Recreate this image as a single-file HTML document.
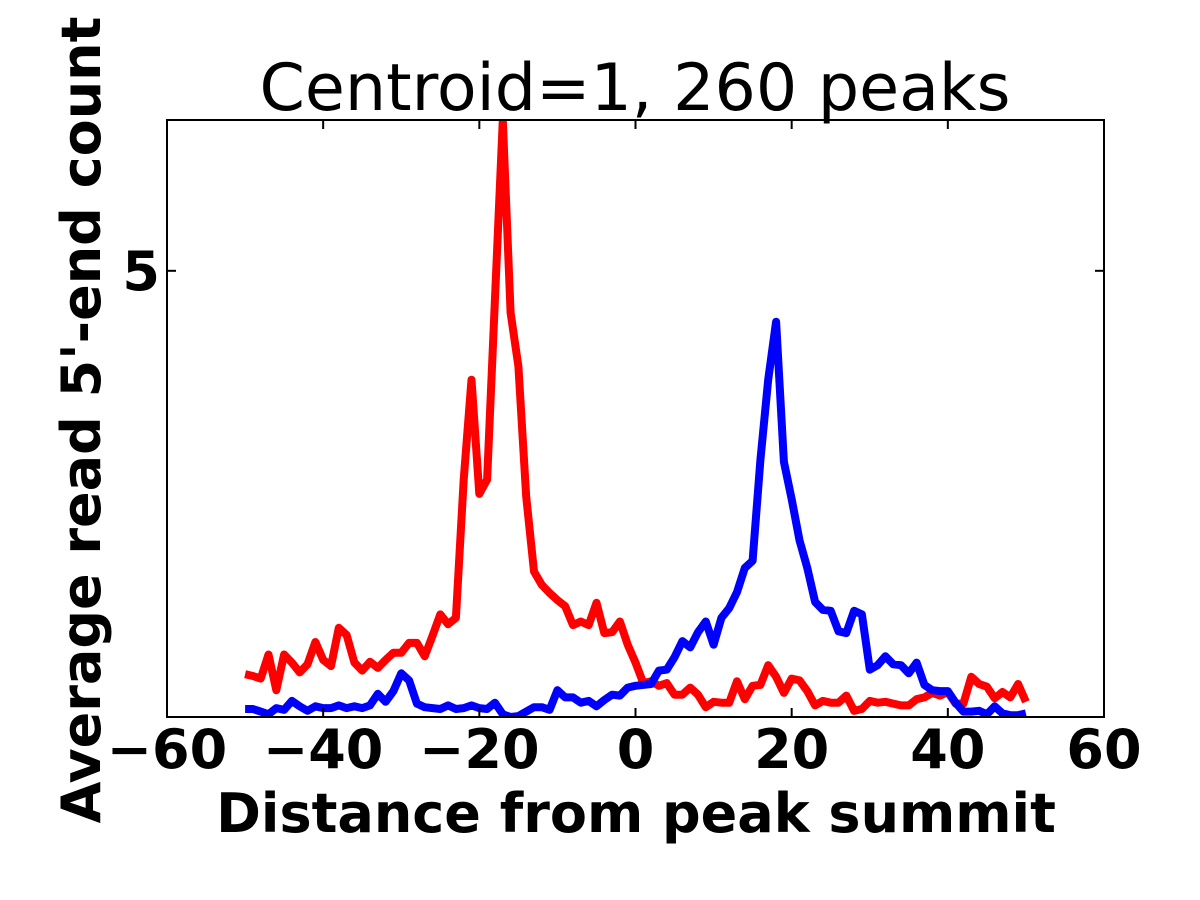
<!DOCTYPE html>
<html><head><meta charset="utf-8"><style>html,body{margin:0;padding:0;background:#fff}svg{display:block}</style></head>
<body>
<svg id="chart" width="1200" height="900" xmlns="http://www.w3.org/2000/svg" font-family="DejaVu Sans, Liberation Sans, sans-serif"></svg>
<script>
const xValues = [];
for (let i = -50; i <= 50; i++) xValues.push(i);
const redSeries = [0.48,0.46,0.43,0.70,0.30,0.70,0.61,0.50,0.59,0.84,0.64,0.57,1.00,0.92,0.61,0.52,0.62,0.55,0.64,0.72,0.72,0.83,0.83,0.68,0.91,1.15,1.04,1.11,2.66,3.78,2.50,2.66,4.67,6.69,4.53,3.93,2.47,1.63,1.48,1.39,1.31,1.24,1.03,1.07,1.03,1.28,0.94,0.95,1.07,0.81,0.61,0.38,0.40,0.35,0.38,0.25,0.25,0.33,0.25,0.11,0.17,0.16,0.16,0.40,0.20,0.35,0.36,0.58,0.45,0.27,0.43,0.41,0.29,0.13,0.18,0.16,0.16,0.24,0.07,0.09,0.18,0.16,0.17,0.15,0.13,0.13,0.20,0.22,0.27,0.24,0.28,0.15,0.15,0.45,0.37,0.34,0.21,0.28,0.22,0.37,0.17];
const blueSeries = [0.09,0.09,0.06,0.03,0.10,0.08,0.18,0.12,0.07,0.12,0.10,0.10,0.13,0.10,0.12,0.10,0.13,0.26,0.17,0.29,0.49,0.41,0.15,0.11,0.10,0.09,0.13,0.09,0.10,0.13,0.10,0.09,0.16,0.03,0.00,0.01,0.06,0.11,0.11,0.08,0.30,0.22,0.22,0.16,0.18,0.12,0.19,0.25,0.24,0.33,0.35,0.36,0.37,0.52,0.53,0.67,0.85,0.78,0.95,1.07,0.81,1.11,1.22,1.40,1.67,1.75,2.88,3.78,4.43,2.86,2.44,1.98,1.67,1.29,1.20,1.19,0.96,0.94,1.19,1.15,0.53,0.58,0.68,0.59,0.58,0.49,0.61,0.36,0.30,0.29,0.29,0.16,0.06,0.06,0.07,0.03,0.12,0.04,0.02,0.02,0.04];
const xTicks = [-60,-40,-20,0,20,40,60];
const xTickLabels = ["\u221260","\u221240","\u221220","0","20","40","60"];
const yTicks = [5];
const yTickLabels = ["5"];

const L=167,R=1104,T=120,B=717;
const xMin=-60,xMax=60,yMin=0,yMax=6.69;
const sx=v=>L+(v-xMin)/(xMax-xMin)*(R-L);
const sy=v=>B-(v-yMin)/(yMax-yMin)*(B-T);
const svg=document.getElementById('chart');
const NS='http://www.w3.org/2000/svg';
function mk(tag,attrs,parent){const e=document.createElementNS(NS,tag);for(const k in attrs)e.setAttribute(k,attrs[k]);(parent||svg).appendChild(e);return e;}

const defs=mk('defs',{});
const cp=mk('clipPath',{id:'clip'},defs);
mk('rect',{x:L,y:T,width:R-L,height:B-T},cp);

function drawLine(vals,color,name){
  const d=vals.map((v,i)=>(i?'L':'M')+sx(xValues[i]).toFixed(1)+','+sy(v).toFixed(1)).join('');
  const p=mk('path',{d:d,fill:'none',stroke:color,'stroke-width':8,'stroke-linejoin':'round','clip-path':'url(#clip)'});
  
  
}
drawLine(redSeries,'#ff0000','red-series-line');
drawLine(blueSeries,'#0000ff','blue-series-line');

const frame=mk('rect',{x:L,y:T,width:R-L,height:B-T,fill:'none',stroke:'#000','stroke-width':2});



xTicks.forEach((t,i)=>{
  const x=sx(t);
  mk('line',{x1:x,y1:B,x2:x,y2:B-9,stroke:'#000','stroke-width':2});
  mk('line',{x1:x,y1:T,x2:x,y2:T+9,stroke:'#000','stroke-width':2});
  const tx=mk('text',{x:x,y:768,'text-anchor':'middle','font-size':54,'font-weight':'bold'});
  tx.textContent=xTickLabels[i];
  
  
});
yTicks.forEach((t,i)=>{
  const y=sy(t);
  mk('line',{x1:L,y1:y,x2:L+9,y2:y,stroke:'#000','stroke-width':2});
  mk('line',{x1:R,y1:y,x2:R-9,y2:y,stroke:'#000','stroke-width':2});
  const tx=mk('text',{x:160,y:y+19,'text-anchor':'end','font-size':54,'font-weight':'bold'});
  tx.textContent=yTickLabels[i];
  
  
});

const title=mk('text',{x:635,y:110,'text-anchor':'middle','font-size':65});
title.textContent='Centroid=1, 260 peaks';



const xl=mk('text',{x:636,y:832,'text-anchor':'middle','font-size':54,'font-weight':'bold'});
xl.textContent='Distance from peak summit';



const yl=mk('text',{x:0,y:0,'text-anchor':'middle','font-size':54,'font-weight':'bold',transform:'translate(100,420) rotate(-90)'});
yl.textContent="Average read 5'-end count";


</script>
</body></html>
